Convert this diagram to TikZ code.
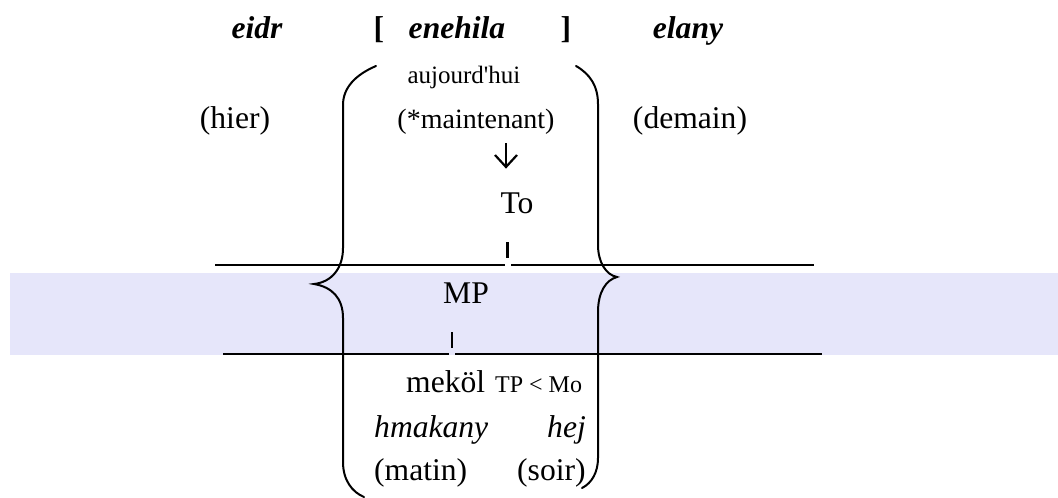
\documentclass[tikz,border=0pt]{standalone}
\usepackage{fontspec}
\setmainfont{Liberation Serif}
\definecolor{bandcol}{RGB}{230,230,250}
\tikzset{
  txt/.style={anchor=base, inner sep=0pt, font=\fontsize{31.6}{38}\selectfont},
  txtw/.style={anchor=base west, inner sep=0pt, font=\fontsize{31.6}{38}\selectfont},
  hd/.style={anchor=base, inner sep=0pt, font=\fontsize{31.6}{38}\selectfont\bfseries\itshape},
  sq/.style={anchor=base, inner sep=0pt, font=\fontsize{31.6}{38}\selectfont\bfseries},
  brk/.style={line width=2pt, line cap=round},
  rulel/.style={line width=1.6pt},
  tickl/.style={line width=2.6pt},
  arr/.style={line width=2.2pt}
}
\begin{document}
\begin{tikzpicture}[x=1pt,y=-1pt]
\useasboundingbox (0,0) rectangle (1058,498);
\fill[bandcol] (10,273) rectangle (1058,355);
% top row
\node[hd] (eidr) at (257,38) {eidr};
\node[sq] (lb) at (379,38) {[};
\node[hd] (enehila) at (457,38) {enehila};
\node[sq] (rb) at (566,38) {]};
\node[hd] (elany) at (688,38) {elany};
% second rows
\node[txt, font=\fontsize{25}{30}\selectfont] (auj) at (464,83) {aujourd\textquotesingle hui};
\node[txt] (hier) at (235,128) {(hier)};
\node[txt, font=\fontsize{28}{34}\selectfont] (maint) at (476,128) {(*maintenant)};
\node[txt] (demain) at (690,128) {(demain)};
% arrow
\coordinate (aT) at (506,143);
\coordinate (aB) at (506,167);
\draw[arr] (aT) -- (aB);
\draw[arr] ([xshift=-11pt,yshift=12pt]aB) -- (aB) -- ([xshift=11pt,yshift=12pt]aB);
\node[txt] (To) at (517,213) {To};
% lines and ticks
\draw[rulel] (215,265) -- (505,265);
\draw[rulel] (511,265) -- (814,265);
\draw[tickl] (507.5,242) -- (507.5,258);
\node[txt] (MP) at (466,303) {MP};
\draw[rulel] (223,354) -- (449,354);
\draw[rulel] (455,354) -- (822,354);
\draw[tickl] (452,332) -- (452,348);
% brackets
\draw[brk] (376,66) .. controls (355,75) and (343,88) .. (343,105) -- (343,248)
  .. controls (343,268) and (332,282) .. (314,284)
  .. controls (332,287) and (343,298) .. (343,318) -- (343,462)
  .. controls (343,480) and (352,492) .. (364,497);
\draw[brk] (576,66) .. controls (590,74) and (598,86) .. (598,104) -- (598,245)
  .. controls (598,262) and (606,275) .. (617,277)
  .. controls (606,280) and (598,292) .. (598,312) -- (598,458)
  .. controls (598,472) and (592,483) .. (582,488);
% lower texts
\node[txtw] (mekol) at (406,392) {meköl};
\node[txtw, font=\fontsize{24}{29}\selectfont] (tpmo) at (495,392) {TP < Mo};
\node[txtw, font=\fontsize{31.6}{38}\selectfont\itshape] (hmakany) at (374,437) {hmakany};
\node[txtw, font=\fontsize{31.6}{38}\selectfont\itshape] (hej) at (547,437) {hej};
\node[txtw] (matin) at (374,480) {(matin)};
\node[txtw] (soir) at (517,480) {(soir)};
\end{tikzpicture}
\end{document}
